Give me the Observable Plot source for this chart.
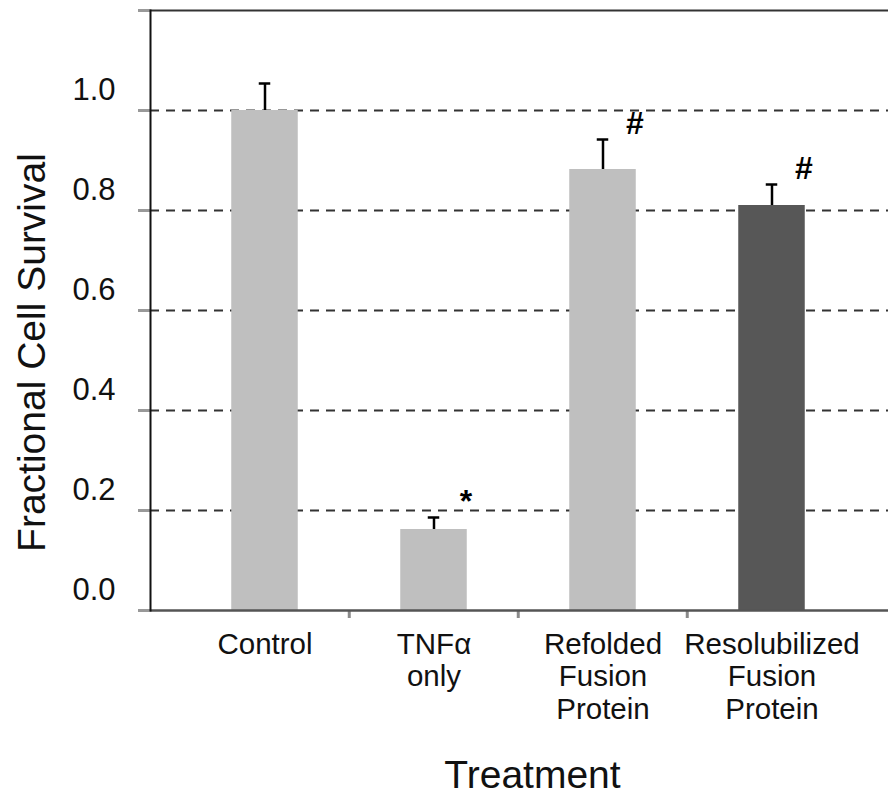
<!DOCTYPE html>
<html><head><meta charset="utf-8">
<script src="https://cdn.jsdelivr.net/npm/d3@7"></script>
<script src="https://cdn.jsdelivr.net/npm/@observablehq/plot@0.6"></script>
<style>body{margin:0;background:#fff} svg{display:block}</style>
</head><body><div id="chart"></div>
<script>
// ---- data ----
const categories = ["Control", "TNFα\nonly", "Refolded\nFusion\nProtein", "Resolubilized\nFusion\nProtein"];
const survival = [1.0, 0.162, 0.882, 0.81];
const errors = [0.054, 0.024, 0.06, 0.042];
const significance = ["", "*", "#", "#"];
const yTickValues = [0, 0.2, 0.4, 0.6, 0.8, 1.0, 1.2];
const yLabelValues = [0, 0.2, 0.4, 0.6, 0.8, 1.0];
const gridValues = [0.2, 0.4, 0.6, 0.8, 1.0];
const yTitle = "Fractional Cell Survival";
const xTitle = "Treatment";

const rows = categories.map((c, i) => ({category: c, value: survival[i], top: survival[i] + errors[i], sig: significance[i]}));

// ---- layout ----
const xRange = [179, 857];
const step = (xRange[1] - xRange[0]) / categories.length;
const barInset = (step - 67) / 2;
const capInset = (step - 12) / 2;
const light = "#bfbfbf", dark = "#575757";

const chart = Plot.plot({
  width: 888, height: 795,
  marginLeft: 150, marginRight: 0, marginTop: 10, marginBottom: 185,
  style: {fontFamily: "'Liberation Sans', Arial, sans-serif", background: "#fff", color: "#111"},
  x: {type: "band", domain: categories, range: xRange, padding: 0},
  y: {domain: [0, 1.2], nice: false},
  color: {domain: categories, range: [light, light, light, dark]},
  marks: [
    Plot.gridY(gridValues, {stroke: "#333", strokeOpacity: 1, strokeWidth: 2, strokeDasharray: "9,7"}),
    Plot.barY(rows, {x: "category", y: "value", fill: "category", insetLeft: barInset, insetRight: barInset}),
    Plot.ruleX(rows, {x: "category", y1: "value", y2: "top", stroke: "#000", strokeWidth: 2.5}),
    Plot.tickY(rows, {x: "category", y: "top", stroke: "#000", strokeWidth: 2.5, insetLeft: capInset, insetRight: capInset}),
    Plot.text(rows, {x: "category", y: "top", text: "sig", dx: 32, dy: -16, fontSize: 32, fontWeight: "bold", fill: "#000"}),
    Plot.axisY({ticks: yTickValues, tickSize: 12, fill: "none", stroke: "#999", strokeWidth: 3, label: null}),
    Plot.axisY({ticks: yLabelValues, tickSize: 0, tickPadding: 35, dy: -20, fontSize: 31, tickFormat: d3.format(".1f"), label: null}),
    Plot.axisX({ticks: categories.slice(1), tickSize: 8, fill: "none", stroke: "#8a8a8a", strokeWidth: 3, dx: -step / 2, label: null}),
    Plot.axisX({tickSize: 0, tickPadding: 21, fontSize: 29.5, lineHeight: 1.09, label: null}),
    Plot.ruleY([0], {stroke: "#555", strokeWidth: 2.5}),
    Plot.ruleY([1.2], {stroke: "#333", strokeWidth: 2}),
    Plot.frame({anchor: "left", stroke: "#111", strokeWidth: 2}),
    Plot.text([yTitle], {text: d => d, frameAnchor: "left", textAnchor: "middle", lineAnchor: "middle", dx: -118, dy: 42, rotate: -90, fontSize: 39}),
    Plot.text([xTitle], {text: d => d, frameAnchor: "bottom", textAnchor: "middle", lineAnchor: "middle", dx: 13, dy: 165, fontSize: 39})
  ]
});
document.getElementById("chart").append(chart);
</script>
</body></html>
